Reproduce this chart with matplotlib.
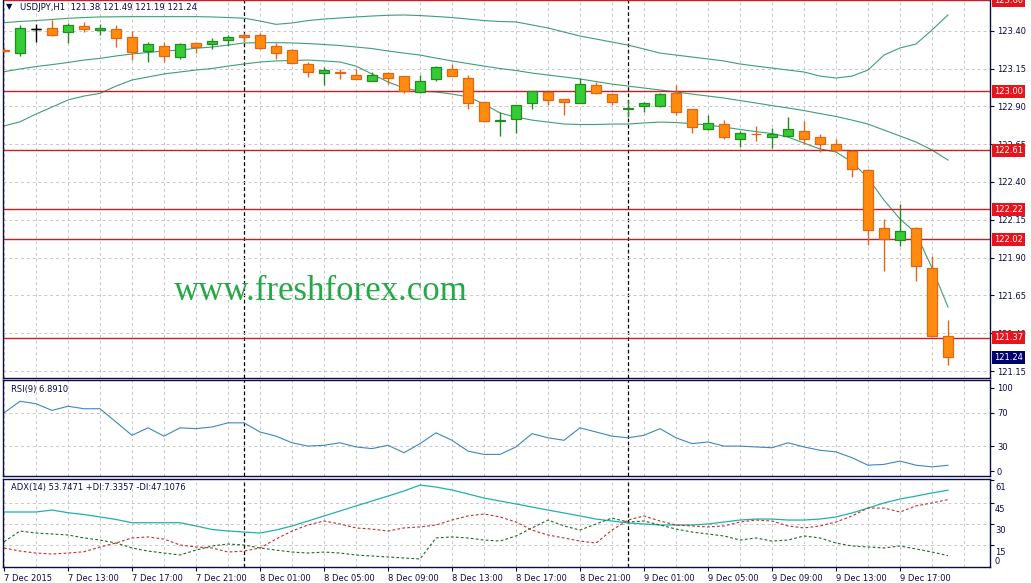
import numpy as np
import matplotlib.pyplot as plt
from matplotlib.transforms import blended_transform_factory, offset_copy

# hourly bars, 7 Dec 09:00 .. 9 Dec 20:00 (index -1 .. 58)
bar_idx = np.arange(-1, 59)

opens = [123.272, 123.252, 123.409, 123.418, 123.389, 123.431, 123.405, 123.409, 123.356, 123.268,
         123.297, 123.228, 123.319, 123.310, 123.336, 123.374, 123.374, 123.297, 123.270, 123.178,
         123.118, 123.128, 123.105, 123.065, 123.118, 123.098, 122.992, 123.078, 123.145, 123.085,
         122.926, 122.800, 122.817, 122.919, 122.992, 122.946, 122.919, 123.038, 122.979, 122.880,
         122.900, 122.900, 122.990, 122.880, 122.750, 122.780, 122.685, 122.720, 122.694, 122.707,
         122.734, 122.694, 122.654, 122.608, 122.476, 122.098, 122.019, 122.098, 121.833, 121.380]
highs = [123.290, 123.437, 123.442, 123.471, 123.449, 123.456, 123.444, 123.438, 123.398, 123.327,
         123.327, 123.316, 123.327, 123.354, 123.374, 123.387, 123.383, 123.321, 123.280, 123.190,
         123.160, 123.145, 123.145, 123.125, 123.125, 123.100, 123.105, 123.166, 123.180, 123.110,
         122.930, 122.864, 122.910, 123.000, 122.999, 122.950, 123.085, 123.058, 122.985, 122.940,
         122.930, 122.985, 123.040, 122.880, 122.846, 122.809, 122.738, 122.770, 122.754, 122.830,
         122.804, 122.716, 122.687, 122.610, 122.489, 122.158, 122.257, 122.100, 121.913, 121.490]
lows = [123.250, 123.232, 123.327, 123.367, 123.320, 123.389, 123.372, 123.294, 123.206, 123.190,
        123.195, 123.210, 123.250, 123.277, 123.300, 123.327, 123.277, 123.215, 123.180, 123.095,
        123.040, 123.078, 123.078, 123.065, 123.045, 122.985, 122.990, 123.067, 123.098, 122.883,
        122.797, 122.705, 122.725, 122.883, 122.906, 122.846, 122.919, 122.979, 122.906, 122.827,
        122.860, 122.895, 122.840, 122.727, 122.742, 122.685, 122.628, 122.670, 122.625, 122.707,
        122.648, 122.596, 122.596, 122.430, 121.980, 121.810, 121.974, 121.744, 121.378, 121.190]
closes = [123.268, 123.418, 123.409, 123.374, 123.438, 123.413, 123.418, 123.352, 123.257, 123.310,
          123.234, 123.310, 123.294, 123.332, 123.360, 123.358, 123.287, 123.254, 123.188, 123.125,
          123.140, 123.120, 123.078, 123.105, 123.085, 123.003, 123.065, 123.158, 123.098, 122.920,
          122.804, 122.810, 122.906, 122.999, 122.939, 122.926, 123.045, 122.985, 122.926, 122.886,
          122.920, 122.980, 122.864, 122.764, 122.787, 122.694, 122.727, 122.714, 122.714, 122.747,
          122.685, 122.648, 122.612, 122.489, 122.085, 122.020, 122.078, 121.844, 121.380, 121.240]

bb_upper = [123.453, 123.461, 123.467, 123.474, 123.482, 123.487, 123.491, 123.492, 123.493, 123.493,
            123.493, 123.493, 123.493, 123.491, 123.487, 123.483, 123.464, 123.442, 123.451, 123.467,
            123.477, 123.484, 123.491, 123.497, 123.502, 123.504, 123.500, 123.494, 123.487, 123.477,
            123.467, 123.461, 123.458, 123.438, 123.418, 123.391, 123.365, 123.345, 123.325, 123.305,
            123.279, 123.252, 123.239, 123.226, 123.213, 123.200, 123.180, 123.166, 123.153, 123.140,
            123.127, 123.100, 123.087, 123.100, 123.140, 123.239, 123.286, 123.312, 123.405, 123.504]
bb_mid = [123.129, 123.147, 123.163, 123.176, 123.190, 123.206, 123.217, 123.233, 123.246, 123.256,
          123.266, 123.272, 123.284, 123.292, 123.305, 123.319, 123.321, 123.321, 123.319, 123.315,
          123.309, 123.302, 123.292, 123.282, 123.266, 123.252, 123.239, 123.219, 123.200, 123.183,
          123.166, 123.150, 123.137, 123.120, 123.107, 123.094, 123.081, 123.064, 123.047, 123.034,
          123.021, 123.008, 122.995, 122.981, 122.968, 122.955, 122.938, 122.922, 122.905, 122.889,
          122.872, 122.852, 122.833, 122.809, 122.783, 122.743, 122.704, 122.664, 122.611, 122.545]
bb_lower = [122.770, 122.798, 122.849, 122.895, 122.942, 122.968, 122.986, 123.034, 123.074, 123.094,
            123.114, 123.127, 123.140, 123.150, 123.166, 123.180, 123.193, 123.200, 123.203, 123.206,
            123.200, 123.193, 123.166, 123.114, 123.061, 123.021, 123.001, 122.995, 122.981, 122.963,
            122.915, 122.856, 122.829, 122.809, 122.796, 122.783, 122.780, 122.780, 122.783, 122.783,
            122.790, 122.796, 122.793, 122.786, 122.776, 122.763, 122.747, 122.733, 122.720, 122.697,
            122.657, 122.618, 122.598, 122.532, 122.426, 122.280, 122.155, 122.062, 121.831, 121.573]

rsi = [70, 84, 81, 73, 78, 75, 75, 59, 43, 52, 42, 52, 51, 53, 58, 58, 47, 42, 34, 30,
       31, 34, 29, 27, 31, 22, 33, 46, 37, 24, 20, 20, 29, 45, 40, 37, 52, 47, 42, 40,
       43, 51, 40, 33, 35, 30, 30, 29, 28, 34, 29, 25, 23, 16, 7, 8, 12, 7, 5, 6.891]

adx = [38.3, 38.3, 38.3, 39.7, 37.8, 36.5, 34.8, 33.0, 30.7, 30.7, 30.7, 30.7, 28.4, 25.9, 24.8,
       24.1, 23.4, 25.5, 28.4, 31.9, 35.5, 39.0, 42.6, 46.1, 49.6, 53.2, 57.4, 56.0, 53.9, 51.1,
       48.2, 46.1, 44.0, 41.8, 39.7, 37.6, 35.5, 33.3, 31.9, 30.5, 29.8, 29.1, 29.1, 29.1, 29.8,
       31.2, 32.6, 33.3, 33.3, 32.6, 32.6, 33.3, 34.8, 37.6, 41.1, 44.7, 47.5, 49.6, 51.8, 53.7471]
plus_di = [17.2, 24.8, 23.4, 22.7, 22.0, 19.9, 18.4, 16.3, 12.8, 10.6, 9.2, 7.8, 11.3, 14.2, 15.6,
           14.9, 12.8, 11.3, 9.9, 9.2, 9.9, 9.2, 7.8, 7.1, 6.4, 5.7, 5.0, 19.9, 20.6, 19.9,
           18.4, 17.7, 21.3, 27.0, 32.6, 28.4, 25.5, 29.8, 34.0, 31.2, 31.9, 29.1, 26.2, 24.1, 22.7,
           21.3, 18.4, 19.9, 17.7, 18.4, 21.3, 19.9, 16.3, 14.2, 13.5, 12.8, 14.2, 12.1, 9.9, 7.3357]
minus_di = [12.8, 10.6, 9.2, 8.5, 9.2, 10.1, 13.5, 16.3, 19.9, 20.6, 19.1, 14.9, 13.5, 12.8, 9.9,
            10.6, 12.8, 19.1, 24.8, 29.1, 31.9, 29.8, 27.0, 26.2, 24.8, 27.0, 27.7, 29.1, 32.6, 35.5,
            36.9, 34.8, 31.2, 25.5, 22.0, 19.9, 17.7, 16.3, 25.5, 32.6, 35.5, 31.9, 29.1, 28.4, 27.7,
            28.4, 31.2, 32.6, 31.9, 28.4, 27.0, 28.4, 31.2, 35.5, 41.1, 41.1, 38.3, 42.6, 44.7, 47.1076]

levels = [123.60, 123.00, 122.61, 122.22, 122.02, 121.37]
price_ticks = [123.40, 123.15, 122.90, 122.65, 122.40, 122.15, 121.90, 121.65, 121.40, 121.15]
time_pos = [-1, 3, 7, 11, 15, 19, 23, 27, 31, 35, 39, 43, 47, 51, 55]
time_labels = ['7 Dec 2015', '7 Dec 13:00', '7 Dec 17:00', '7 Dec 21:00', '8 Dec 01:00',
               '8 Dec 05:00', '8 Dec 09:00', '8 Dec 13:00', '8 Dec 17:00', '8 Dec 21:00',
               '9 Dec 01:00', '9 Dec 05:00', '9 Dec 09:00', '9 Dec 13:00', '9 Dec 17:00']
day_breaks = [14, 38]

W, H = 1031, 583
navy = '#0b0b48'
grid_c = '#c8c8c8'
red_lvl = '#c81e28'

fig = plt.figure(figsize=(W / 100, H / 100), dpi=100)
fig.patch.set_facecolor('white')


def px_axes(l, t, r, b):
    return fig.add_axes([l / W, 1 - b / H, (r - l) / W, (b - t) / H])


ax = px_axes(3, 0, 990, 378)
ax_rsi = px_axes(3, 380, 990, 476)
ax_adx = px_axes(3, 479, 990, 567)

for a in (ax, ax_rsi, ax_adx):
    a.set_xlim(-1.0625, 60.625)
    for s in a.spines.values():
        s.set_color(navy)
        s.set_linewidth(1.0)
    for g in range(-1, 61, 2):
        a.axvline(g, color=grid_c, lw=0.7, ls=(0, (3, 3)), zorder=0)
    for d in day_breaks:
        a.axvline(d, color='black', lw=0.9, ls=(0, (3, 2)), zorder=1)
    a.yaxis.tick_right()
    a.tick_params(axis='y', length=3, width=0.8, color=navy, labelsize=6,
                  labelcolor=navy, pad=2)
    a.tick_params(axis='x', length=0, labelbottom=False)
ax.spines['top'].set_visible(False)

# ---- price panel
ax.set_ylim(121.104, 123.603)
ax.set_yticks(price_ticks)
ax.set_yticklabels([f'{p:.2f}' for p in price_ticks])
ax.grid(axis='y', color=grid_c, lw=0.7, ls=(0, (3, 3)), zorder=0)

band_c = '#3f9e74'
for band in (bb_upper, bb_mid, bb_lower):
    ax.plot(bar_idx, band, color=band_c, lw=0.8, zorder=2)

o = np.array(opens)
c = np.array(closes)
bull = c > o
bear = c < o
edge = np.where(bull, '#228b22', np.where(bear, '#e0661a', 'black'))
fill = np.where(bull, '#33cc33', np.where(bear, '#ff8c0f', 'black'))
ax.vlines(bar_idx, lows, highs, colors=edge, lw=1.0, zorder=3)
body_lo = np.minimum(o, c)
body_h = np.abs(c - o)
ax.bar(bar_idx, body_h, bottom=body_lo, width=0.6, color=fill, edgecolor=edge,
       linewidth=0.9, zorder=4)
doji = body_h < 0.0005
ax.hlines(o[doji], bar_idx[doji] - 0.3, bar_idx[doji] + 0.3, colors=edge[doji], lw=1.0, zorder=4)

tr = blended_transform_factory(ax.transAxes, ax.transData)
for lv in levels:
    ax.axhline(lv, color=red_lvl, lw=1.0, zorder=2)
    ax.text(1.004, lv, f'{lv:.2f}', transform=tr, fontsize=6, color='white', va='center',
            ha='left', clip_on=False, zorder=6,
            bbox=dict(boxstyle='square,pad=0.25', fc='#e8141c', ec='none'))
ax.text(1.004, closes[-1], f'{closes[-1]:.2f}', transform=tr, fontsize=6, color='white',
        va='center', ha='left', clip_on=False, zorder=6,
        bbox=dict(boxstyle='square,pad=0.25', fc='#00006e', ec='none'))

# ---- RSI panel
ax_rsi.set_ylim(-6, 109.6)
ax_rsi.set_yticks([100, 70, 30, 0])
ax_rsi.set_yticklabels(['100', '70', '30', '0'])
for v in (70, 30):
    ax_rsi.axhline(v, color=grid_c, lw=0.7, ls=(0, (3, 3)), zorder=0)
ax_rsi.plot(bar_idx, rsi, color='#3d87bf', lw=0.8)
ax_rsi.text(8 / 987, 0.9, f'RSI(9) {rsi[-1]:.4f}', transform=ax_rsi.transAxes,
            fontsize=6, color=navy, va='center')

# ---- ADX panel
ax_adx.set_ylim(-0.7, 61.7)
ax_adx.set_yticks([61, 45, 30, 15])
ax_adx.set_yticklabels([])
for v in (45, 30, 15):
    ax_adx.axhline(v, color=grid_c, lw=0.7, ls=(0, (3, 3)), zorder=0)
tr_adx = blended_transform_factory(ax_adx.transAxes, ax_adx.transData)
lab_tr = offset_copy(tr_adx, fig=fig, x=0, y=-2, units='points')
for v in (61, 45, 30, 15):
    ax_adx.text(1.005, v, str(v), transform=lab_tr, fontsize=6, color=navy,
                va='top', ha='left', clip_on=False)
ax_adx.text(1.005, 0, '0', transform=tr_adx, fontsize=6, color=navy, va='bottom',
            ha='left', clip_on=False)
ax_adx.plot(bar_idx, adx, color='#20b2aa', lw=0.9)
ax_adx.plot(bar_idx, plus_di, color='#1d6b1d', lw=0.8, ls=(0, (2.5, 2)))
ax_adx.plot(bar_idx, minus_di, color='#c0302a', lw=0.8, ls=(0, (2.5, 2)))
ax_adx.text(8 / 987, 0.9,
            f'ADX(14) {adx[-1]:.4f} +DI:{plus_di[-1]:.4f} -DI:{minus_di[-1]:.4f}',
            transform=ax_adx.transAxes, fontsize=6, color=navy, va='center')
ax_adx.set_xticks(time_pos)
ax_adx.set_xticklabels(time_labels, ha='left')
ax_adx.tick_params(axis='x', length=3, width=0.8, color=navy, labelsize=6,
                   labelcolor=navy, pad=2, labelbottom=True)

# header and watermark
fig.text(6 / W, 1 - 7 / H, '\u25bc', fontsize=6, color=navy, va='center')
fig.text(20 / W, 1 - 7 / H, 'USDJPY,H1  121.38 121.49 121.19 121.24', fontsize=6.1,
         color=navy, va='center')
fig.text(321 / W, 1 - 292 / H, 'www.freshforex.com', fontsize=25, family='Liberation Serif',
         color='#26a848', ha='center', va='center')

fig.savefig('out.png', dpi=100)
